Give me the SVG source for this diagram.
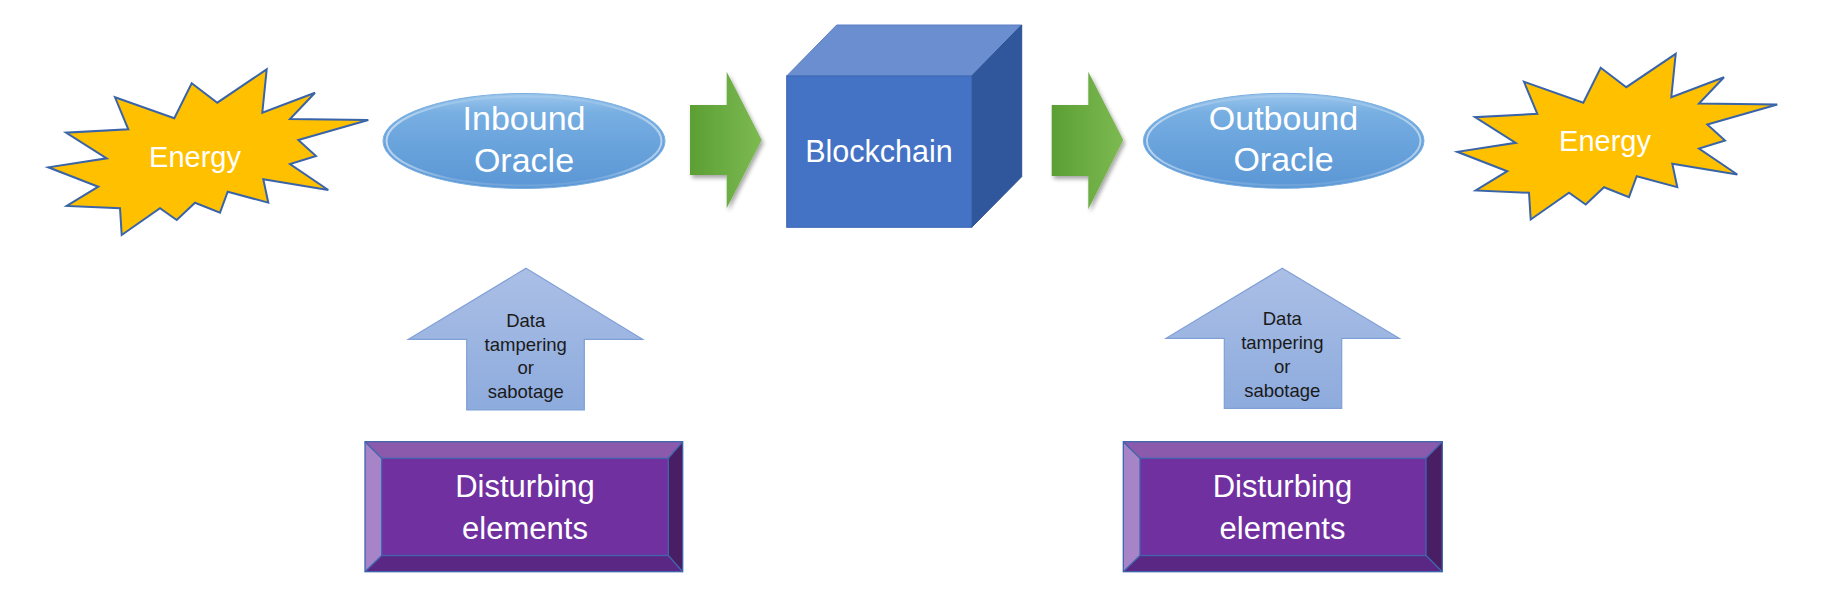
<svg xmlns="http://www.w3.org/2000/svg" width="1841" height="599" viewBox="0 0 1841 599">
  <defs>
    <linearGradient id="ovalGrad" x1="0" y1="0" x2="0" y2="1">
      <stop offset="0" stop-color="#9cc6ec"/>
      <stop offset="0.2" stop-color="#78afe2"/>
      <stop offset="0.55" stop-color="#69a3dc"/>
      <stop offset="1" stop-color="#5b97d5"/>
    </linearGradient>
    <linearGradient id="ovalRim" x1="0" y1="0" x2="1" y2="0">
      <stop offset="0" stop-color="#ffffff" stop-opacity="0.55"/>
      <stop offset="0.25" stop-color="#ffffff" stop-opacity="0.15"/>
      <stop offset="0.75" stop-color="#ffffff" stop-opacity="0.1"/>
      <stop offset="1" stop-color="#ffffff" stop-opacity="0.5"/>
    </linearGradient>
    <linearGradient id="greenGrad" x1="0" y1="0" x2="1" y2="0">
      <stop offset="0" stop-color="#5b9f34"/>
      <stop offset="1" stop-color="#7dba52"/>
    </linearGradient>
    <linearGradient id="upGrad" x1="0" y1="0" x2="0" y2="1">
      <stop offset="0" stop-color="#abbfe6"/>
      <stop offset="1" stop-color="#8dabdd"/>
    </linearGradient>
    <filter id="shadow" x="-20%" y="-20%" width="150%" height="150%">
      <feDropShadow dx="2" dy="3" stdDeviation="2" flood-color="#000" flood-opacity="0.35"/>
    </filter>
    <polygon id="star" points="266.7,69.3 262.3,112.7 315,92.7 290,119 368.3,120 298.3,140 316,156 290,164 328.3,190 263.3,179.3 268.3,202.7 227.7,191.7 220,212.7 195,202.7 176.7,220 160,208.3 121.7,235 120,208.3 66.7,206 98.3,186.7 48.3,167.3 106.7,158.3 66,132.7 128.3,129.3 115,97.3 174.3,118.3 191.7,83.3 217.3,102.7"/>
  </defs>
  <style>
    .star { fill: #ffc000; stroke: #3a64a8; stroke-width: 2; stroke-linejoin: miter; }
    .oval { fill: url(#ovalGrad); stroke: #7aaee0; stroke-width: 1; }
    .rim { fill: none; stroke: url(#ovalRim); stroke-width: 2; }
    .green { fill: url(#greenGrad); filter: url(#shadow); }
    .up { fill: url(#upGrad); stroke: #7f9fd6; stroke-width: 1.2; }
    .wt { font-family: "Liberation Sans", Arial, sans-serif; fill: #ffffff; text-anchor: middle; }
    .dk { font-family: "Liberation Sans", Arial, sans-serif; fill: #1a1a1a; text-anchor: middle; font-size: 18.5px; }
    .face { fill: #7030a0; }
    .bt { fill: #8c5aac; }
    .bl { fill: #a783c8; }
    .br { fill: #4a1e64; }
    .bb { fill: #5b2784; }
    .bevline { fill: none; stroke: #3f66ad; stroke-width: 1.3; }
  </style>
  <rect width="1841" height="599" fill="#ffffff"/>

  <g id="energy-left">
    <use href="#star" class="star"/>
    <text class="wt" x="195" y="166.5" font-size="29">Energy</text>
  </g>

  <g id="inbound-oracle">
    <ellipse class="oval" cx="524" cy="141" rx="141" ry="47.5"/>
    <ellipse class="rim" cx="524" cy="141" rx="137.5" ry="44.5"/>
    <text class="wt" x="524" y="130" font-size="34">Inbound</text>
    <text class="wt" x="524" y="171.5" font-size="34">Oracle</text>
  </g>

  <g id="blockchain">
    <polygon points="786.7,76 836.7,25 1021.7,25 971.7,76" fill="#6a8ecf" stroke="#5a7fc4" stroke-width="1"/>
    <polygon points="971.7,76 1021.7,25 1021.7,176.7 971.7,227.3" fill="#30579c" stroke="#2c5090" stroke-width="1"/>
    <rect x="786.7" y="76" width="185" height="151.3" fill="#4472c4" stroke="#3b66b4" stroke-width="1"/>
    <text class="wt" x="879" y="162.3" font-size="30.5">Blockchain</text>
  </g>

  <g id="outbound-oracle">
    <ellipse class="oval" cx="1283.7" cy="140.8" rx="140.3" ry="47.5"/>
    <ellipse class="rim" cx="1283.7" cy="140.8" rx="136.8" ry="44.5"/>
    <text class="wt" x="1283.5" y="130" font-size="34">Outbound</text>
    <text class="wt" x="1283.5" y="171" font-size="34">Oracle</text>
  </g>

  <g id="energy-right">
    <use href="#star" class="star" transform="translate(1409,-15.5)"/>
    <text class="wt" x="1605" y="151" font-size="29">Energy</text>
  </g>

  <g id="disturbing-left">
    <rect x="365" y="441.7" width="317.7" height="130" class="face"/>
    <polygon class="bt" points="365,441.7 682.7,441.7 668.3,458.3 381.7,458.3"/>
    <polygon class="bl" points="365,441.7 381.7,458.3 381.7,555.5 365,571.7"/>
    <polygon class="br" points="682.7,441.7 682.7,571.7 668.3,555.5 668.3,458.3"/>
    <polygon class="bb" points="365,571.7 381.7,555.5 668.3,555.5 682.7,571.7"/>
    <rect class="bevline" x="381.7" y="458.3" width="286.6" height="97.2"/>
    <path class="bevline" d="M365,441.7 L381.7,458.3 M682.7,441.7 L668.3,458.3 M365,571.7 L381.7,555.5 M682.7,571.7 L668.3,555.5"/>
    <rect class="bevline" x="365" y="441.7" width="317.7" height="130"/>
    <text class="wt" x="525" y="496.7" font-size="31">Disturbing</text>
    <text class="wt" x="525" y="539.3" font-size="31">elements</text>
  </g>

  <g id="disturbing-right">
    <rect x="1123.3" y="441.7" width="319" height="130" class="face"/>
    <polygon class="bt" points="1123.3,441.7 1442.3,441.7 1426,458.3 1140,458.3"/>
    <polygon class="bl" points="1123.3,441.7 1140,458.3 1140,555.5 1123.3,571.7"/>
    <polygon class="br" points="1442.3,441.7 1442.3,571.7 1426,555.5 1426,458.3"/>
    <polygon class="bb" points="1123.3,571.7 1140,555.5 1426,555.5 1442.3,571.7"/>
    <rect class="bevline" x="1140" y="458.3" width="286" height="97.2"/>
    <path class="bevline" d="M1123.3,441.7 L1140,458.3 M1442.3,441.7 L1426,458.3 M1123.3,571.7 L1140,555.5 M1442.3,571.7 L1426,555.5"/>
    <rect class="bevline" x="1123.3" y="441.7" width="319" height="130"/>
    <text class="wt" x="1282.5" y="496.7" font-size="31">Disturbing</text>
    <text class="wt" x="1282.5" y="539.3" font-size="31">elements</text>
  </g>

  <g id="connectors">
    <polygon class="green" points="690,105 726.7,105 726.7,71.7 761.7,140 726.7,208.3 726.7,175 690,175"/>
    <polygon class="green" points="1051.7,105 1088.3,105 1088.3,71.7 1123.3,140 1088.3,209.3 1088.3,176 1051.7,176"/>
    <g id="tamper-left">
      <polygon class="up" points="526,268.3 642.7,339.3 584.3,339.3 584.3,410 466.7,410 466.7,339.3 408.3,339.3"/>
      <text class="dk" x="525.7" y="326.7">Data</text>
      <text class="dk" x="525.7" y="350.5">tampering</text>
      <text class="dk" x="525.7" y="374.2">or</text>
      <text class="dk" x="525.7" y="398.3">sabotage</text>
    </g>
    <g id="tamper-right">
      <polygon class="up" points="1282.3,268.3 1399.3,338.3 1341.7,338.3 1341.7,408.3 1224.3,408.3 1224.3,338.3 1166,338.3"/>
      <text class="dk" x="1282.3" y="325">Data</text>
      <text class="dk" x="1282.3" y="349">tampering</text>
      <text class="dk" x="1282.3" y="372.8">or</text>
      <text class="dk" x="1282.3" y="396.8">sabotage</text>
    </g>
  </g>
</svg>
